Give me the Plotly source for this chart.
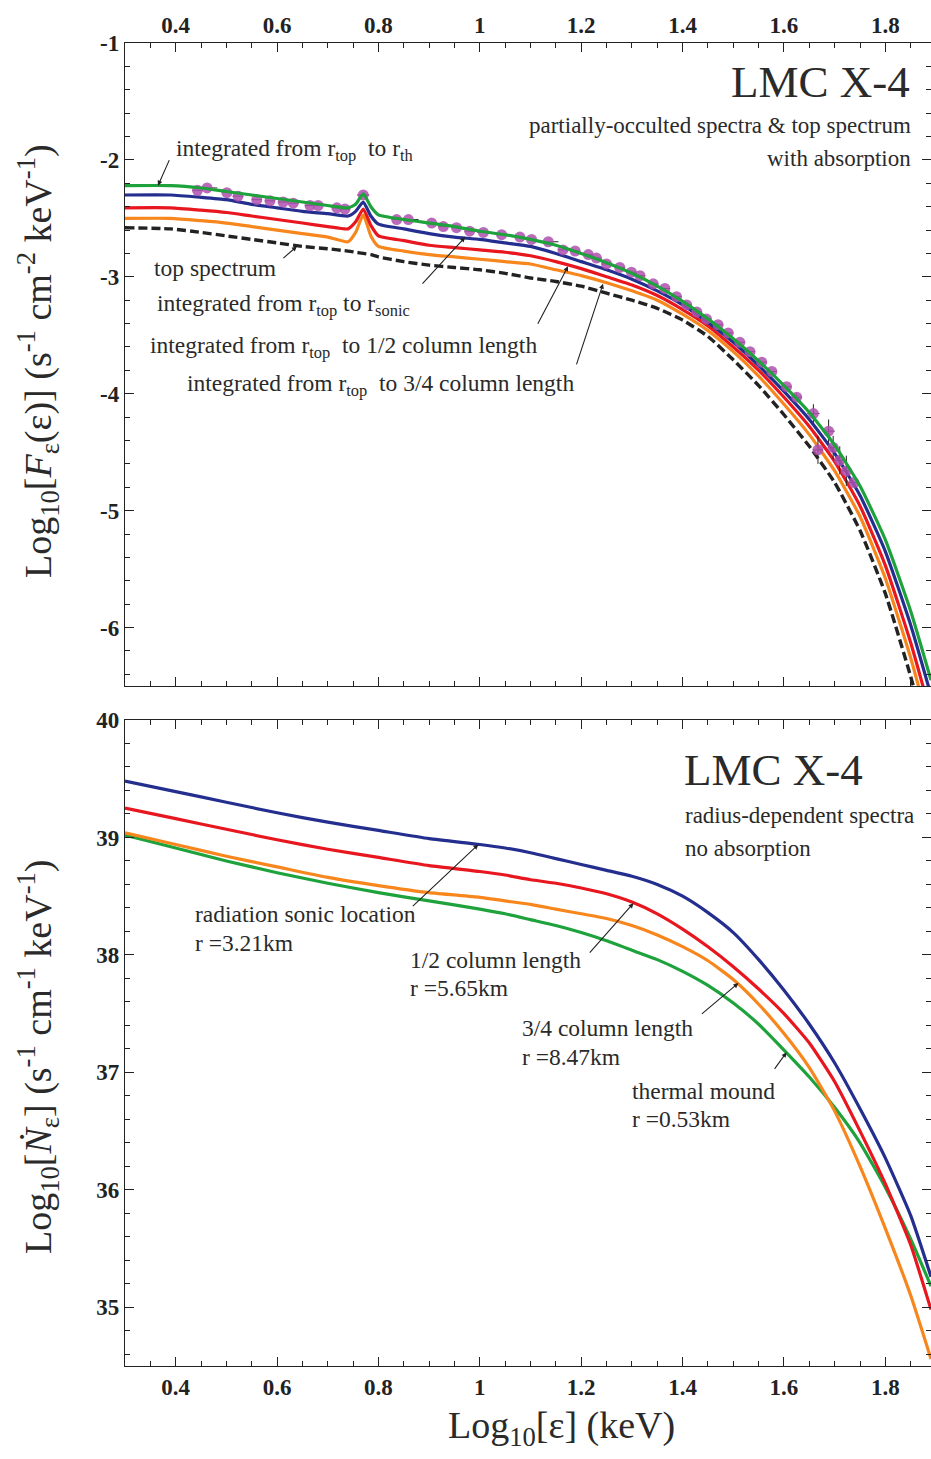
import plotly.graph_objects as go

# ---------------- data ----------------
# top panel: partially-occulted spectra (log10 F)
x_top = [0.30, 0.39, 0.45, 0.50, 0.55, 0.60, 0.65, 0.70, 0.74, 0.755, 0.77, 0.785, 0.80, 0.85, 0.90, 0.95,
         1.00, 1.05, 1.10, 1.15, 1.20, 1.25, 1.30, 1.35, 1.40, 1.45, 1.50, 1.55, 1.60, 1.65, 1.70,
         1.75, 1.80, 1.85, 1.89]
top_green = [-2.22, -2.22, -2.24, -2.27, -2.30, -2.33, -2.36, -2.39, -2.41, -2.38, -2.29, -2.40, -2.47,
             -2.51, -2.54, -2.57, -2.61, -2.64, -2.68, -2.73, -2.80, -2.88, -2.97, -3.08, -3.21, -3.36,
             -3.53, -3.72, -3.93, -4.16, -4.44, -4.79, -5.25, -5.86, -6.45]
top_blue = [-2.30, -2.30, -2.32, -2.34, -2.38, -2.41, -2.44, -2.46, -2.48, -2.44, -2.36, -2.48, -2.55,
            -2.59, -2.63, -2.66, -2.68, -2.71, -2.74, -2.80, -2.87, -2.94, -3.02, -3.12, -3.24, -3.39,
            -3.56, -3.76, -3.98, -4.22, -4.51, -4.87, -5.35, -5.98, -6.58]
top_red = [-2.41, -2.41, -2.43, -2.45, -2.48, -2.51, -2.54, -2.57, -2.59, -2.53, -2.42, -2.56, -2.65,
           -2.69, -2.73, -2.75, -2.77, -2.79, -2.82, -2.87, -2.93, -3.00, -3.07, -3.16, -3.28, -3.42,
           -3.60, -3.80, -4.03, -4.28, -4.58, -4.96, -5.47, -6.13, -6.75]
top_orange = [-2.50, -2.50, -2.52, -2.54, -2.57, -2.60, -2.63, -2.66, -2.70, -2.62, -2.47, -2.65, -2.74,
              -2.78, -2.81, -2.83, -2.85, -2.87, -2.89, -2.94, -2.99, -3.05, -3.12, -3.20, -3.32, -3.46,
              -3.64, -3.85, -4.09, -4.35, -4.66, -5.05, -5.58, -6.26, -6.90]
top_black = [-2.58, -2.59, -2.62, -2.65, -2.68, -2.71, -2.74, -2.76, -2.78, -2.79, -2.80, -2.81, -2.83,
             -2.87, -2.90, -2.92, -2.94, -2.97, -3.01, -3.04, -3.08, -3.14, -3.20, -3.27, -3.37, -3.51,
             -3.71, -3.93, -4.18, -4.45, -4.76, -5.17, -5.71, -6.42, -7.07]

# observed data points
obs_x = [0.443, 0.462, 0.501, 0.523, 0.560, 0.586, 0.612, 0.632, 0.665, 0.681, 0.718, 0.734, 0.770,
         0.836, 0.859, 0.905, 0.928, 0.954, 0.980, 1.007, 1.043, 1.079, 1.102, 1.135, 1.164, 1.188,
         1.214, 1.230, 1.250, 1.276, 1.299, 1.316, 1.342, 1.365, 1.388, 1.408, 1.428, 1.447, 1.470,
         1.490, 1.513, 1.533, 1.556, 1.576, 1.605, 1.625, 1.658, 1.667, 1.688, 1.697, 1.710, 1.723, 1.738]
obs_y = [-2.26, -2.24, -2.28, -2.31, -2.34, -2.35, -2.36, -2.37, -2.39, -2.39, -2.41, -2.42, -2.30,
         -2.51, -2.51, -2.54, -2.57, -2.58, -2.61, -2.62, -2.64, -2.66, -2.68, -2.70, -2.77, -2.78,
         -2.81, -2.84, -2.89, -2.92, -2.96, -2.99, -3.06, -3.10, -3.17, -3.24, -3.30, -3.36, -3.41,
         -3.48, -3.56, -3.64, -3.73, -3.81, -3.94, -4.03, -4.17, -4.48, -4.32, -4.46, -4.57, -4.66, -4.76]
obs_xerr = [0.010, 0.020, 0.010, 0.010, 0.010, 0.010, 0.010, 0.010, 0.010, 0.010, 0.010, 0.010, 0.012,
            0.010, 0.020, 0.010, 0.010, 0.010, 0.010, 0.012, 0.010, 0.010, 0.010, 0.020, 0.010, 0.010,
            0.010, 0.010, 0.010, 0.010, 0.010, 0.010, 0.010, 0.010, 0.010, 0.010, 0.010, 0.010, 0.010,
            0.010, 0.010, 0.010, 0.010, 0.010, 0.010, 0.010, 0.012, 0.010, 0.012, 0.010, 0.010, 0.010, 0.010]
obs_yerr = [0.0] * 45 + [0.03, 0.08, 0.12, 0.10, 0.10, 0.12, 0.13]

# bottom panel: radius-dependent spectra (log10 Ndot)
x_bot = [0.30, 0.40, 0.50, 0.60, 0.70, 0.80, 0.90, 1.00, 1.05, 1.10, 1.15, 1.20, 1.25, 1.30, 1.35,
         1.40, 1.45, 1.50, 1.55, 1.60, 1.65, 1.70, 1.75, 1.80, 1.85, 1.89]
bot_blue = [39.48, 39.39, 39.30, 39.21, 39.13, 39.06, 38.99, 38.94, 38.91, 38.87, 38.82, 38.77, 38.72,
            38.67, 38.60, 38.50, 38.36, 38.19, 37.96, 37.70, 37.41, 37.08, 36.69, 36.27, 35.78, 35.26]
bot_red = [39.25, 39.16, 39.07, 38.98, 38.90, 38.83, 38.76, 38.71, 38.68, 38.64, 38.61, 38.57, 38.52,
           38.45, 38.35, 38.22, 38.07, 37.90, 37.71, 37.50, 37.25, 36.92, 36.50, 36.05, 35.53, 34.98]
bot_orange = [39.04, 38.94, 38.84, 38.75, 38.66, 38.59, 38.53, 38.49, 38.46, 38.43, 38.39, 38.35, 38.31,
              38.25, 38.17, 38.07, 37.95, 37.79, 37.58, 37.33, 37.04, 36.67, 36.20, 35.67, 35.10, 34.56]
bot_green = [39.02, 38.91, 38.80, 38.70, 38.61, 38.53, 38.46, 38.39, 38.35, 38.30, 38.25, 38.19, 38.12,
             38.04, 37.96, 37.86, 37.74, 37.59, 37.41, 37.19, 36.96, 36.70, 36.40, 36.02, 35.58, 35.18]

x_ticks = [0.4, 0.6, 0.8, 1.0, 1.2, 1.4, 1.6, 1.8]
x_ticktext = ["0.4", "0.6", "0.8", "1", "1.2", "1.4", "1.6", "1.8"]
y_top_ticks = [-1, -2, -3, -4, -5, -6]
y_top_text = ["-1", "-2", "-3", "-4", "-5", "-6"]
y_bot_ticks = [35, 36, 37, 38, 39, 40]
y_bot_text = ["35", "36", "37", "38", "39", "40"]

# ---------------- styling ----------------
W, H = 931, 1459
ML, MR, MT = 125, 0, 43
MB = H - 1366
PW, PH = W - ML - MR, H - MT - MB
SERIF = "Liberation Serif"
TXT = "#2a2a2a"
GREEN, BLUE, RED, ORANGE = "#1ea23c", "#232e8e", "#e8161e", "#f7861d"
ANN = 23.5


def paper(px, py):
    # screen pixel -> paper fraction
    return (px - ML) / PW, (H - MB - py) / PH


top_dom = [paper(0, 686)[1], 1.0]
bot_dom = [0.0, paper(0, 720)[1]]

fig = go.Figure()

lw = 3.2
sm = 0.5
fig.add_trace(go.Scatter(x=x_top, y=top_black, mode="lines", xaxis="x", yaxis="y",
                         line=dict(color="#222222", width=3.4, dash="9px,4px", shape="spline", smoothing=sm)))
for ys, c in [(top_orange, ORANGE), (top_red, RED), (top_blue, BLUE)]:
    fig.add_trace(go.Scatter(x=x_top, y=ys, mode="lines", xaxis="x", yaxis="y",
                             line=dict(color=c, width=lw, shape="spline", smoothing=sm)))
fig.add_trace(go.Scatter(x=obs_x, y=obs_y, mode="markers", xaxis="x", yaxis="y",
                         marker=dict(color="rgba(175,80,175,0.85)", size=11),
                         error_x=dict(type="data", array=obs_xerr, color="#222", thickness=1, width=0),
                         error_y=dict(type="data", array=obs_yerr, color="#222", thickness=1, width=0)))
fig.add_trace(go.Scatter(x=x_top, y=top_green, mode="lines", xaxis="x", yaxis="y",
                         line=dict(color=GREEN, width=lw, shape="spline", smoothing=sm)))

for ys, c in [(bot_green, GREEN), (bot_orange, ORANGE), (bot_red, RED), (bot_blue, BLUE)]:
    fig.add_trace(go.Scatter(x=x_bot, y=ys, mode="lines", xaxis="x2", yaxis="y2",
                             line=dict(color=c, width=lw, shape="spline", smoothing=sm)))

tickfont = dict(family=SERIF, size=23, color="#222", weight="bold")
axcommon = dict(showline=True, linecolor="#222", linewidth=1.3, mirror="ticks", ticks="inside",
                ticklen=9, tickwidth=1, tickcolor="#222", showgrid=False, zeroline=False,
                tickfont=tickfont, automargin=False)
fig.update_layout(
    xaxis=dict(domain=[0, 1], range=[0.3, 1.89], anchor="y", side="top",
               tickvals=x_ticks, ticktext=x_ticktext,
               minor=dict(dtick=0.05, tick0=0, ticks="inside", ticklen=5, tickcolor="#222"),
               **axcommon),
    yaxis=dict(domain=top_dom, range=[-6.5, -1], anchor="x",
               tickvals=y_top_ticks, ticktext=y_top_text,
               minor=dict(dtick=0.2, tick0=0, ticks="inside", ticklen=5, tickcolor="#222"),
               **axcommon),
    xaxis2=dict(domain=[0, 1], range=[0.3, 1.89], anchor="y2",
                tickvals=x_ticks, ticktext=x_ticktext,
                minor=dict(dtick=0.05, tick0=0, ticks="inside", ticklen=5, tickcolor="#222"),
                **axcommon),
    yaxis2=dict(domain=bot_dom, range=[34.5, 40], anchor="x2",
                tickvals=y_bot_ticks, ticktext=y_bot_text,
                minor=dict(dtick=0.2, tick0=0, ticks="inside", ticklen=5, tickcolor="#222"),
                **axcommon),
    width=W, height=H, margin=dict(l=ML, r=MR, t=MT, b=MB, autoexpand=False),
    plot_bgcolor="white", paper_bgcolor="white", showlegend=False,
)

ann = []


def text(px, py, s, size=ANN, xanchor="left", angle=0):
    x, y = paper(px, py)
    ann.append(dict(x=x, y=y, xref="paper", yref="paper", text=s, showarrow=False,
                    xanchor=xanchor, yanchor="middle", textangle=angle,
                    font=dict(family=SERIF, size=size, color=TXT)))


def arrow(xd, yd, ax, ay, axis="1"):
    ann.append(dict(x=xd, y=yd, xref="x" if axis == "1" else "x2", yref="y" if axis == "1" else "y2",
                    ax=ax, ay=ay, text="", showarrow=True, arrowhead=2, arrowsize=0.9,
                    arrowwidth=1.1, arrowcolor="#222", standoff=0))


# top panel texts
text(912, 82, "LMC X-4", size=45, xanchor="right")
text(913, 125, "partially-occulted spectra &amp; top spectrum", size=23, xanchor="right")
text(913, 158, "with absorption", size=23, xanchor="right")
text(174, 150, "integrated from r<sub>top</sub>  to r<sub>th</sub>")
text(152, 268, "top spectrum")
text(155, 305, "integrated from r<sub>top</sub> to r<sub>sonic</sub>")
text(148, 347, "integrated from r<sub>top</sub>  to 1/2 column length")
text(185, 385, "integrated from r<sub>top</sub>  to 3/4 column length")
arrow(0.365, -2.22, 12, -27)
arrow(0.639, -2.74, -15, 13)
arrow(0.971, -2.66, -44, 48)
arrow(1.174, -2.91, -31, 59)
arrow(1.243, -3.06, -27, 82)

# bottom panel texts
text(682, 770, "LMC X-4", size=45)
text(683, 815, "radius-dependent spectra", size=23)
text(683, 848, "no absorption", size=23)
text(193, 914, "radiation sonic location")
text(193, 943, "r =3.21km")
text(408, 960, "1/2 column length")
text(408, 988, "r =5.65km")
text(520, 1028, "3/4 column length")
text(520, 1057, "r =8.47km")
text(630, 1091, "thermal mound")
text(630, 1119, "r =0.53km")
arrow(0.997, 38.94, -67, 63, axis="2")
arrow(1.303, 38.44, -45, 51, axis="2")
arrow(1.510, 37.76, -38, 32, axis="2")
arrow(1.605, 37.17, -13, 18, axis="2")

# axis titles
text(38, 361, "Log<sub>10</sub>[<i>F</i><sub>ε</sub>(ε)] (s<sup>-1</sup> cm<sup>-2</sup> keV<sup>-1</sup>)",
     size=38, xanchor="center", angle=-90)
text(38, 1057, "Log<sub>10</sub>[<i>Ṅ</i><sub>ε</sub>] (s<sup>-1</sup> cm<sup>-1</sup> keV<sup>-1</sup>)",
     size=38, xanchor="center", angle=-90)
text(561, 1428, "Log<sub>10</sub>[ε] (keV)", size=38, xanchor="center")

fig.update_layout(annotations=ann)
fig.write_html("out.html", config={"displayModeBar": False},
               post_script="document.body.style.margin='0';document.body.style.overflow='hidden';")
